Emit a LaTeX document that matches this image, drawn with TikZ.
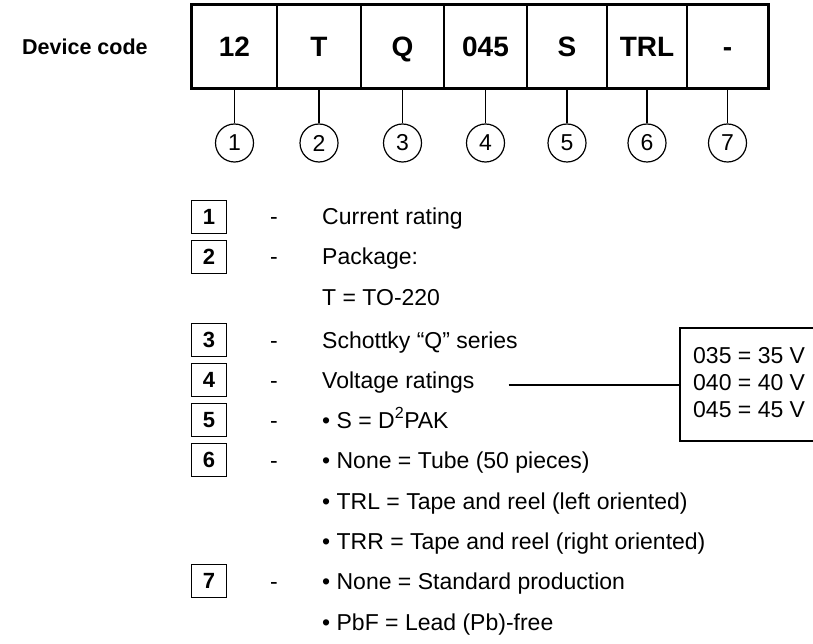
\documentclass[tikz,border=0pt]{standalone}
\usepackage{fontspec}
\setmainfont{Liberation Sans}
\setsansfont{Liberation Sans}
\usetikzlibrary{calc}

\tikzset{
	cell/.style={draw, line width=1.2pt, minimum height=83pt, inner sep=0pt, text height=20pt, text depth=0pt, font=\fontsize{28}{32}\selectfont\bfseries},
	num/.style={draw, circle, line width=1.2pt, minimum size=38pt, inner sep=0pt, font=\fontsize{23}{27}\selectfont},
	key/.style={draw, line width=1.8pt, minimum width=35pt, minimum height=33pt, inner sep=0pt, font=\fontsize{22}{26}\selectfont\bfseries},
	txt/.style={anchor=base west, inner sep=0pt, font=\fontsize{23}{27}\selectfont},
	sep/.style={anchor=base, inner sep=0pt, font=\fontsize{23}{27}\selectfont}
}

\begin{document}
\begin{tikzpicture}[x=1pt, y=-1pt]
				\useasboundingbox (0,0) rectangle (813,644);
				
				\node[anchor=west, inner sep=0pt, font=\fontsize{21.5}{25}\selectfont\bfseries] (devcode) at (22,47) {Device code};
				
				% code cells and their circled numbers
				\foreach \i/\x/\w/\t in {1/234.5/85/12, 2/319/84/T, 3/402.5/83/Q, 4/485.5/83/045, 5/567/80/S, 6/647/80/TRL, 7/727.5/81/-}{
					\node[cell, minimum width=\w pt] (c\i) at (\x,46.5) {\t};
					\node[num] (n\i) at (\x,143) {\i};
					\draw[line width=1.2pt] (c\i.south) -- (n\i.north);
				}
				\draw[line width=2.2pt] (c1.north west) rectangle (c7.south east);
				
				% legend
				\foreach \i/\y in {1/217, 2/257, 3/340, 4/380, 5/420, 6/460, 7/581}{
					\node[key] (k\i) at (209,\y) {\i};
					\node[sep] (d\i) at (274,\y+8) {-};
				}
				\node[txt] (t1) at (322,225) {Current rating};
				\node[txt] (t2) at (322,265) {Package:};
				\node[txt] (t2b) at (322,305) {T = TO-220};
				\node[txt] (t3) at (322,348) {Schottky “Q” series};
				\node[txt] (t4) at (322,388) {Voltage ratings};
				\node[txt] (t5) at (322,428) {\textbullet\ S = D\textsuperscript{2}PAK};
				\node[txt] (t6) at (322,468) {\textbullet\ None = Tube (50 pieces)};
				\node[txt] (t6b) at (322,509) {\textbullet\ TRL = Tape and reel (left oriented)};
				\node[txt] (t6c) at (322,549) {\textbullet\ TRR = Tape and reel (right oriented)};
				\node[txt] (t7) at (322,589) {\textbullet\ None = Standard production};
				\node[txt] (t7b) at (322,630) {\textbullet\ PbF = Lead (Pb)-free};
				
				% voltage box
				\coordinate (vtl) at (680,328);
				\coordinate (vbl) at (680,441);
				\draw[line width=1.2pt] (813,328) -- (vtl) -- (vbl) -- (813,441);
				\node[txt] (v1) at (693,363) {035 = 35 V};
				\node[txt] (v2) at (693,390) {040 = 40 V};
				\node[txt] (v3) at (693,417) {045 = 45 V};
				\draw[line width=1.2pt] ($(t4.base east)+(34,-3)$) coordinate (vl) -- (vl -| vtl);
\end{tikzpicture}
\end{document}
